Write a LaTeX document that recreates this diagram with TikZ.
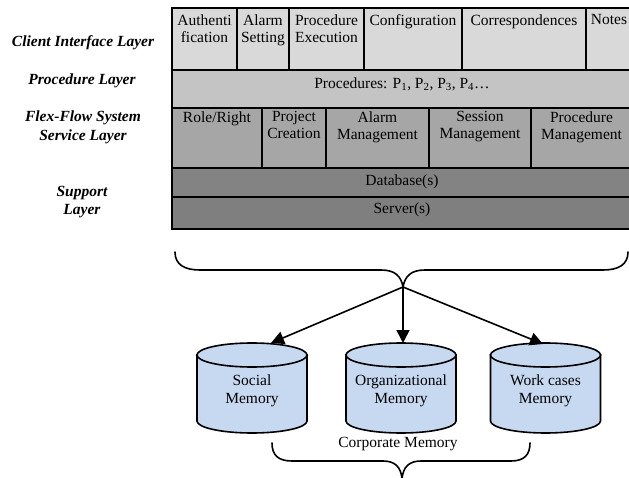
\documentclass[tikz,border=0pt]{standalone}
\usepackage{fontspec}
\setmainfont{Liberation Serif}
\usetikzlibrary{arrows.meta}

\definecolor{rowA}{HTML}{D9D9D9}
\definecolor{rowB}{HTML}{C4C4C4}
\definecolor{rowC}{HTML}{A6A6A6}
\definecolor{rowD}{HTML}{838383}
\definecolor{rowE}{HTML}{7F7F7F}
\definecolor{memfill}{HTML}{C6D9F1}

\tikzset{
  cell/.style={draw=black, line width=1.5pt},
  celltext/.style={anchor=north, inner sep=0pt, align=center,
    font=\fontsize{15.5}{17}\selectfont},
  layertext/.style={inner sep=0pt, align=center,
    font=\fontsize{15.5}{18.5}\selectfont\bfseries\itshape},
  memtext/.style={inner sep=0pt, align=center,
    font=\fontsize{15.5}{18.5}\selectfont},
  brace/.style={draw=black, line width=1.6pt, line cap=round},
  feed/.style={draw=black, line width=1.6pt, -{Triangle[length=13pt,width=13pt]}},
  cyl/.style={draw=black, line width=1.6pt, fill=memfill}
}

% memory cylinder: #1 centre x, #2 top y, #3 bottom y
\newcommand{\memdrum}[3]{%
  \path[cyl] (#1-55,#2+12) -- (#1-55,#3-12)
    arc[start angle=180, end angle=360, x radius=55pt, y radius=12pt]
    -- (#1+55,#2+12) -- cycle;
  \path[cyl] (#1,#2+12) ellipse[x radius=55pt, y radius=12pt];
}

\begin{document}
\begin{tikzpicture}[x=1pt, y=-1pt]
\useasboundingbox (0,0) rectangle (629,478);

% ---- layer rows ----
\path[cell, fill=rowA] (172,8) rectangle (632,70);
\path[cell, fill=rowB] (172,70) rectangle (632,108);
\path[cell, fill=rowC] (172,108) rectangle (632,168);
\path[cell, fill=rowD] (172,168) rectangle (632,197);
\path[cell, fill=rowE] (172,197) rectangle (632,229);

% client interface cells
\foreach \xx in {237,289,364,462,586} \draw[cell] (\xx,8) -- (\xx,70);
% service cells
\foreach \xx in {262,326,429,531} \draw[cell] (\xx,108) -- (\xx,168);

% ---- cell texts ----
\node[celltext] (auth) at (204.5,14.5) {Authenti\\fication};
\node[celltext] (alarmset) at (263,14.5) {Alarm\\Setting};
\node[celltext] (procexec) at (326.5,14.5) {Procedure\\Execution};
\node[celltext] (config) at (413,14.5) {Configuration};
\node[celltext] (corr) at (524,14.5) {Correspondences};
\node[celltext] (notes) at (609,14.5) {Notes};

\node[celltext] (procs) at (402,77.5) {Procedures: P\textsubscript{1}, P\textsubscript{2}, P\textsubscript{3}, P\textsubscript{4}…};

\node[celltext] (role) at (217,111.5) {Role/Right};
\node[celltext] (project) at (294,111.5) {Project\\Creation};
\node[celltext] (alarmman) at (377.5,111.5) {Alarm\\Management};
\node[celltext] (session) at (480,111.5) {Session\\Management};
\node[celltext] (procman) at (581.5,111.5) {Procedure\\Management};

\node[celltext] (db) at (402,174.5) {Database(s)};
\node[celltext] (srv) at (402,202.5) {Server(s)};

% ---- layer names ----
\node[layertext] (lclient) at (83,43) {Client Interface Layer};
\node[layertext] (lproc) at (82,81) {Procedure Layer};
\node[layertext] (lservice) at (83,127.5) {Flex-Flow System\\Service Layer};
\node[layertext] (lsupport) at (82,202) {Support\\Layer};

% ---- upper brace ----
\coordinate (tip) at (403,287);
\draw[brace] (175,252) .. controls (175,265) and (185,270) .. (200,270)
  -- (381,270) .. controls (395,270) and (401,276) .. (tip)
  .. controls (405,276) and (411,270) .. (425,270)
  -- (603,270) .. controls (618,270) and (628,265) .. (628,252);

% ---- memories ----
\memdrum{252}{343}{433}
\memdrum{401}{343}{433}
\memdrum{545.5}{343}{433}

\node[memtext] (social) at (252,391) {Social\\Memory};
\node[memtext] (org) at (401,391) {Organizational\\Memory};
\node[memtext] (work) at (545.5,391) {Work cases\\Memory};

\coordinate (socialin) at (271,343);
\coordinate (orgin) at (403,343);
\coordinate (workin) at (543,344);

\draw[feed] (tip) -- (socialin);
\draw[feed] (tip) -- (orgin);
\draw[feed] (tip) -- (workin);

% ---- corporate memory ----
\node[memtext] (corp) at (398,444) {Corporate Memory};
\coordinate (ctip) at (402,479);
\draw[brace] (272,443) .. controls (272,455) and (278,461) .. (292,461)
  -- (383,461) .. controls (395,461) and (401,467) .. (ctip)
  .. controls (403,467) and (409,461) .. (421,461)
  -- (511,461) .. controls (524,461) and (530,455) .. (530,443);
\end{tikzpicture}
\end{document}
